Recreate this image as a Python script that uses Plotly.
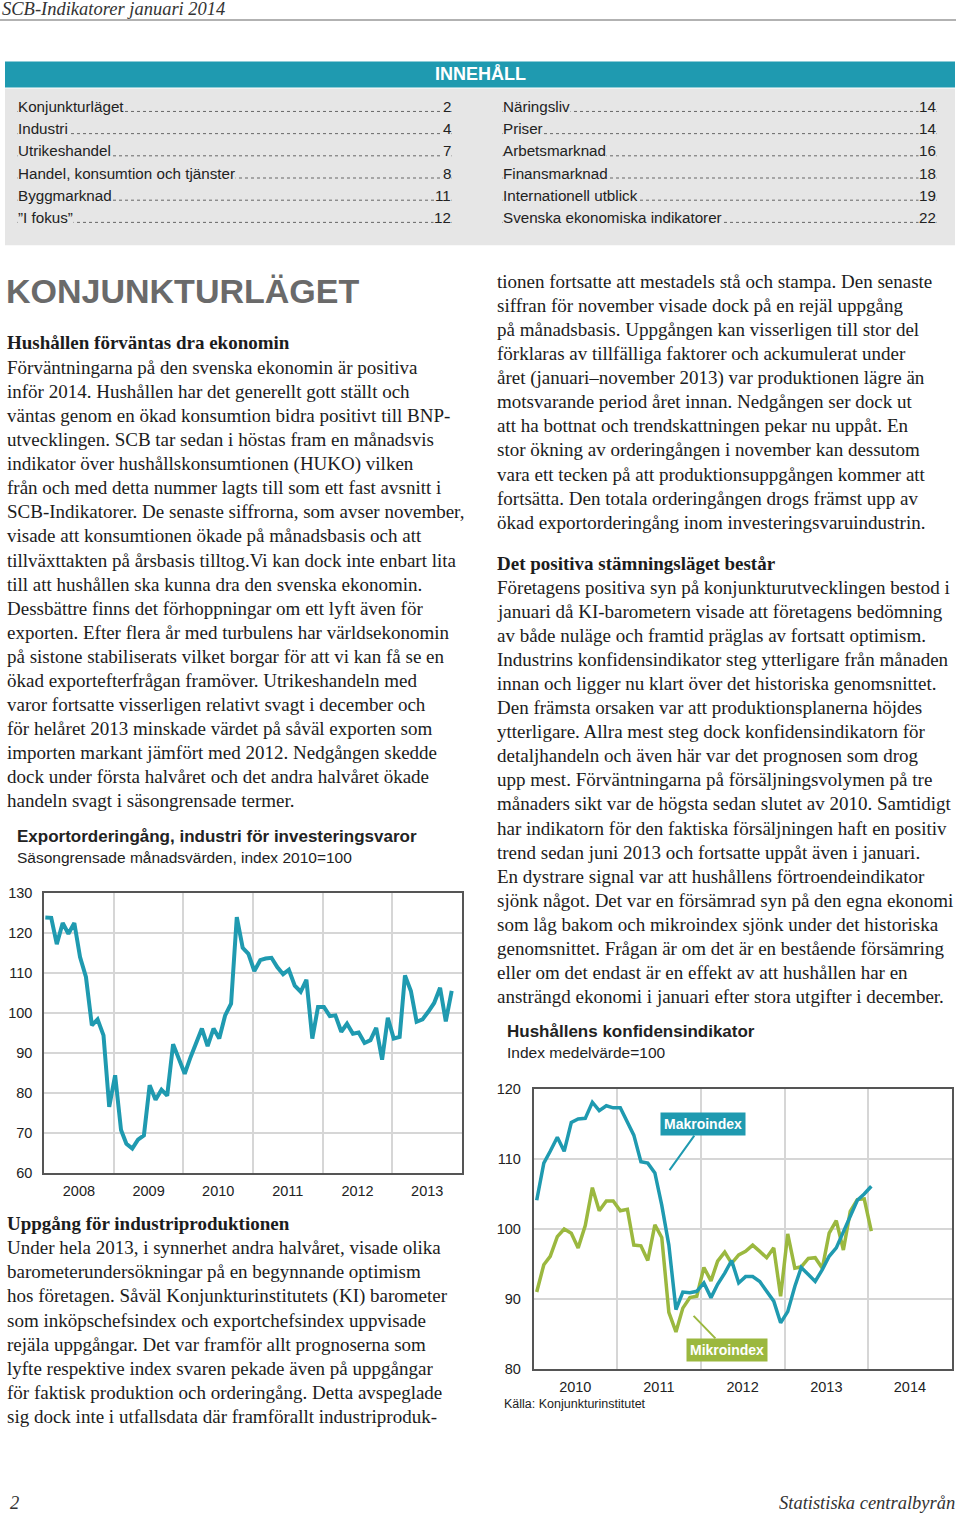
import pandas as pd
import plotly.graph_objects as go

W, H = 960, 1519
# the captured page ends up slightly squeezed vertically; these undo it
Y_OFF, Y_SCALE = 7.5, 0.99

def px(x):
    return x / W

def py(y):
    return 1 - ((y - Y_OFF) / Y_SCALE) / H

TEAL = "#1f9ab0"
GREEN = "#9bb83f"
GRID = "#d6d6d6"
FRAME = "#555555"
TEXT = "#1c1c1c"
SERIF = "Liberation Serif, Times New Roman, serif"
SANS = "Liberation Sans, Arial, sans-serif"

# Exportorderingång, industri för investeringsvaror, jan 2008 - nov 2013
export_values = [
    123.9, 123.8, 117.2, 122.5, 119.8, 122.5, 114.0, 109.0, 96.9, 98.4, 94.4, 76.5,
    84.4, 70.7, 67.3, 66.1, 68.3, 69.4, 81.9, 78.3, 80.8, 79.3, 92.2, 88.2,
    84.8, 89.0, 92.5, 96.1, 91.7, 96.1, 93.6, 99.4, 102.3, 124.0, 116.3, 114.8,
    110.5, 113.2, 113.6, 113.8, 111.5, 109.7, 110.8, 106.8, 105.3, 108.3, 93.6, 101.5,
    101.5, 99.2, 99.4, 95.3, 97.3, 94.8, 95.1, 92.5, 93.2, 96.3, 88.3, 98.8,
    93.6, 94.0, 109.4, 105.5, 97.8, 98.4, 100.3, 102.5, 106.3, 97.9, 105.5,
]

# Hushållens konfidensindikator, jan 2010 - jan 2014
makro = [
    104.1, 109.4, 111.1, 113.1, 111.1, 115.2, 115.7, 115.8, 118.1, 116.9, 117.6, 117.3,
    117.3, 115.1, 113.4, 109.6, 109.4, 108.0, 103.4, 97.7, 88.5, 91.0, 90.9, 91.1,
    92.3, 90.2, 92.1, 93.7, 95.5, 92.3, 93.2, 93.2, 92.5, 91.1, 89.7, 86.6,
    88.2, 91.8, 94.5, 93.5, 92.5, 94.2, 96.1, 97.3, 99.6, 102.0, 104.1, 105.0,
    106.1,
]
mikro = [
    91.0, 94.9, 96.1, 98.9, 100.0, 99.4, 97.3, 100.5, 105.9, 102.6, 104.0, 104.0,
    102.6, 102.8, 97.7, 97.6, 95.5, 100.6, 98.8, 88.1, 85.3, 88.7, 90.2, 90.4,
    94.5, 92.6, 95.4, 96.7, 95.1, 96.3, 96.8, 97.7, 96.8, 95.9, 97.3, 90.4,
    99.3, 94.4, 94.6, 95.8, 95.9, 94.4, 99.4, 101.2, 97.0, 102.5, 104.2, 104.3,
    99.7,
]

export_dates = pd.date_range("2008-01-01", periods=len(export_values), freq="MS") + pd.Timedelta(days=7)
konf_dates = pd.date_range("2010-01-01", periods=len(makro), freq="MS") + pd.Timedelta(days=14)

toc_left = [("Konjunkturläget", "2"), ("Industri", "4"), ("Utrikeshandel", "7"),
            ("Handel, konsumtion och tjänster", "8"), ("Byggmarknad", "11"), ("”I fokus”", "12")]
toc_right = [("Näringsliv", "14"), ("Priser", "14"), ("Arbetsmarknad", "16"),
             ("Finansmarknad", "18"), ("Internationell utblick", "19"),
             ("Svenska ekonomiska indikatorer", "22")]

left_text_1 = [
    "Förväntningarna på den svenska ekonomin är positiva",
    "inför 2014. Hushållen har det generellt gott ställt och",
    "väntas genom en ökad konsumtion bidra positivt till BNP-",
    "utvecklingen. SCB tar sedan i höstas fram en månadsvis",
    "indikator över hushållskonsumtionen (HUKO) vilken",
    "från och med detta nummer lagts till som ett fast avsnitt i",
    "SCB-Indikatorer. De senaste siffrorna, som avser november,",
    "visade att konsumtionen ökade på månadsbasis och att",
    "tillväxttakten på årsbasis tilltog.Vi kan dock inte enbart lita",
    "till att hushållen ska kunna dra den svenska ekonomin.",
    "Dessbättre finns det förhoppningar om ett lyft även för",
    "exporten. Efter flera år med turbulens har världsekonomin",
    "på sistone stabiliserats vilket borgar för att vi kan få se en",
    "ökad exportefterfrågan framöver. Utrikeshandeln med",
    "varor fortsatte visserligen relativt svagt i december och",
    "för helåret 2013 minskade värdet på såväl exporten som",
    "importen markant jämfört med 2012. Nedgången skedde",
    "dock under första halvåret och det andra halvåret ökade",
    "handeln svagt i säsongrensade termer.",
]
left_text_2 = [
    "Under hela 2013, i synnerhet andra halvåret, visade olika",
    "barometerundersökningar på en begynnande optimism",
    "hos företagen. Såväl Konjunkturinstitutets (KI) barometer",
    "som inköpschefsindex och exportchefsindex uppvisade",
    "rejäla uppgångar. Det var framför allt prognoserna som",
    "lyfte respektive index svaren pekade även på uppgångar",
    "för faktisk produktion och orderingång. Detta avspeglade",
    "sig dock inte i utfallsdata där framförallt industriproduk-",
]
right_text_1 = [
    "tionen fortsatte att mestadels stå och stampa. Den senaste",
    "siffran för november visade dock på en rejäl uppgång",
    "på månadsbasis. Uppgången kan visserligen till stor del",
    "förklaras av tillfälliga faktorer och ackumulerat under",
    "året (januari–november 2013) var produktionen lägre än",
    "motsvarande period året innan. Nedgången ser dock ut",
    "att ha bottnat och trendskattningen pekar nu uppåt. En",
    "stor ökning av orderingången i november kan dessutom",
    "vara ett tecken på att produktionsuppgången kommer att",
    "fortsätta. Den totala orderingången drogs främst upp av",
    "ökad exportorderingång inom investeringsvaruindustrin.",
]
right_text_2 = [
    "Företagens positiva syn på konjunkturutvecklingen bestod i",
    "januari då KI-barometern visade att företagens bedömning",
    "av både nuläge och framtid präglas av fortsatt optimism.",
    "Industrins konfidensindikator steg ytterligare från månaden",
    "innan och ligger nu klart över det historiska genomsnittet.",
    "Den främsta orsaken var att produktionsplanerna höjdes",
    "ytterligare. Allra mest steg dock konfidensindikatorn för",
    "detaljhandeln och även här var det prognosen som drog",
    "upp mest. Förväntningarna på försäljningsvolymen på tre",
    "månaders sikt var de högsta sedan slutet av 2010. Samtidigt",
    "har indikatorn för den faktiska försäljningen haft en positiv",
    "trend sedan juni 2013 och fortsatte uppåt även i januari.",
    "En dystrare signal var att hushållens förtroendeindikator",
    "sjönk något. Det var en försämrad syn på den egna ekonomi",
    "som låg bakom och mikroindex sjönk under det historiska",
    "genomsnittet. Frågan är om det är en bestående försämring",
    "eller om det endast är en effekt av att hushållen har en",
    "ansträngd ekonomi i januari efter stora utgifter i december.",
]

fig = go.Figure()

fig.add_trace(go.Scatter(x=export_dates, y=export_values, mode="lines",
                         line=dict(color=TEAL, width=4), xaxis="x", yaxis="y"))
fig.add_trace(go.Scatter(x=konf_dates, y=mikro, mode="lines",
                         line=dict(color=GREEN, width=3.5), xaxis="x2", yaxis="y2"))
fig.add_trace(go.Scatter(x=konf_dates, y=makro, mode="lines",
                         line=dict(color=TEAL, width=3.5), xaxis="x2", yaxis="y2"))

axis_common = dict(showgrid=True, gridcolor=GRID, gridwidth=1.5, zeroline=False,
                   showline=True, linecolor=FRAME, linewidth=1.5, mirror=True,
                   ticks="", tickfont=dict(family=SANS, size=14.5, color="#222"))

fig.update_layout(
    width=W, height=H, margin=dict(l=0, r=0, t=0, b=0),
    paper_bgcolor="white", plot_bgcolor="white", showlegend=False,
    xaxis=dict(axis_common, domain=[px(44), px(462)], anchor="y", type="date",
               range=["2008-01-01", "2014-01-01"], dtick="M12", tick0="2008-01-01",
               ticklabelmode="period", tickformat="%Y", ticklabelstandoff=4),
    yaxis=dict(axis_common, domain=[py(1173), py(893)], anchor="x",
               range=[60, 130], dtick=10, ticklabelstandoff=7),
    xaxis2=dict(axis_common, domain=[px(533.5), px(951.7)], anchor="y2", type="date",
                range=["2010-01-01", "2015-01-01"], dtick="M12", tick0="2010-01-01",
                ticklabelmode="period", tickformat="%Y", ticklabelstandoff=4),
    yaxis2=dict(axis_common, domain=[py(1369.3), py(1089)], anchor="x2",
                range=[80, 120], dtick=10, ticklabelstandoff=8),
)

shapes = []
ann = []

def text(s, x, y, size, family=SERIF, color=TEXT, xanchor="left", **kw):
    ann.append(dict(text=s, x=px(x), y=py(y), xref="paper", yref="paper",
                    xanchor=xanchor, yanchor="middle", showarrow=False,
                    font=dict(family=family, size=size, color=color), **kw))

# page header
text("<i>SCB-Indikatorer januari 2014</i>", 0, 9, 18.5, color="#333")
shapes.append(dict(type="line", xref="paper", yref="paper", x0=0, x1=px(956),
                   y0=py(19.5), y1=py(19.5), line=dict(color="#666", width=1.2)))

# innehåll box
shapes.append(dict(type="rect", xref="paper", yref="paper", x0=px(5), x1=px(955),
                   y0=py(87), y1=py(61), fillcolor=TEAL, line=dict(width=0)))
shapes.append(dict(type="rect", xref="paper", yref="paper", x0=px(5), x1=px(955),
                   y0=py(245), y1=py(88), fillcolor="#e6e6e6", line=dict(width=0)))
text("<b>INNEHÅLL</b>", 480, 74, 18, family=SANS, color="white", xanchor="center")

BOX = "#e6e6e6"
for col, (x0, x1) in zip([toc_left, toc_right], [(17, 452), (502, 937)]):
    for i, (name, page) in enumerate(col):
        yy = 106 + i * 22.2
        shapes.append(dict(type="line", xref="paper", yref="paper", x0=px(x0), x1=px(x1),
                           y0=py(yy + 5), y1=py(yy + 5),
                           line=dict(color="#666", width=1, dash="dot")))
        text(name, x0, yy, 15.2, family=SANS, color="#222", bgcolor=BOX, borderpad=0)
        text(page, x1, yy, 15.2, family=SANS, color="#222", xanchor="right",
             bgcolor=BOX, borderpad=0)

# headline and body text
text("<b>KONJUNKTURLÄGET</b>", 4, 291, 34, family=SANS, color="#6a6a6a")

FS = 19
LS = 24.1
text("<b>Hushållen förväntas dra ekonomin</b>", 5, 342, FS)
for i, s in enumerate(left_text_1):
    text(s, 5, 367 + i * LS, FS)

text("<b>Uppgång för industriproduktionen</b>", 5, 1224, FS)
for i, s in enumerate(left_text_2):
    text(s, 5, 1248 + i * LS, FS)

for i, s in enumerate(right_text_1):
    text(s, 495, 281 + i * LS, FS)
text("<b>Det positiva stämningsläget består</b>", 495, 563, FS)
for i, s in enumerate(right_text_2):
    text(s, 495, 587 + i * LS, FS)

# chart titles
text("<b>Exportorderingång, industri för investeringsvaror</b>", 15, 836, 17, family=SANS, color="#222")
text("Säsongrensade månadsvärden, index 2010=100", 15, 857, 15.5, family=SANS, color="#222")
text("<b>Hushållens konfidensindikator</b>", 505, 1032, 17, family=SANS, color="#222")
text("Index medelvärde=100", 505, 1053, 15.5, family=SANS, color="#222")
text("Källa: Konjunkturinstitutet", 502, 1404, 12.5, family=SANS, color="#222")

# series labels
ann.append(dict(text="<b>Makroindex</b>", x="2011-08-18", y=108.4, xref="x2", yref="y2",
                ax=33, ay=-46, showarrow=True, arrowhead=0, arrowwidth=2, arrowcolor=TEAL,
                bgcolor=TEAL, borderpad=3, font=dict(family=SANS, size=14, color="white")))
ann.append(dict(text="<b>Mikroindex</b>", x="2011-12-01", y=87.6, xref="x2", yref="y2",
                ax=33, ay=34, showarrow=True, arrowhead=0, arrowwidth=2, arrowcolor=GREEN,
                bgcolor=GREEN, borderpad=3, font=dict(family=SANS, size=14, color="white")))

# footer
text("<i>2</i>", 8, 1503, 18.5, color="#333")
text("<i>Statistiska centralbyrån</i>", 957, 1503, 18.5, color="#333", xanchor="right")

fig.update_layout(shapes=shapes, annotations=ann)

pin = ("var r=document.documentElement, b=document.body;"
       "r.style.margin='0';r.style.padding='0';r.style.overflow='hidden';"
       "b.style.margin='0';b.style.padding='0';b.style.overflow='hidden';"
       "var d=document.getElementById('{plot_id}');"
       "d.style.position='absolute';d.style.top='0px';d.style.left='0px';")
fig.write_html("out.html", config={"displayModeBar": False}, post_script=pin)
